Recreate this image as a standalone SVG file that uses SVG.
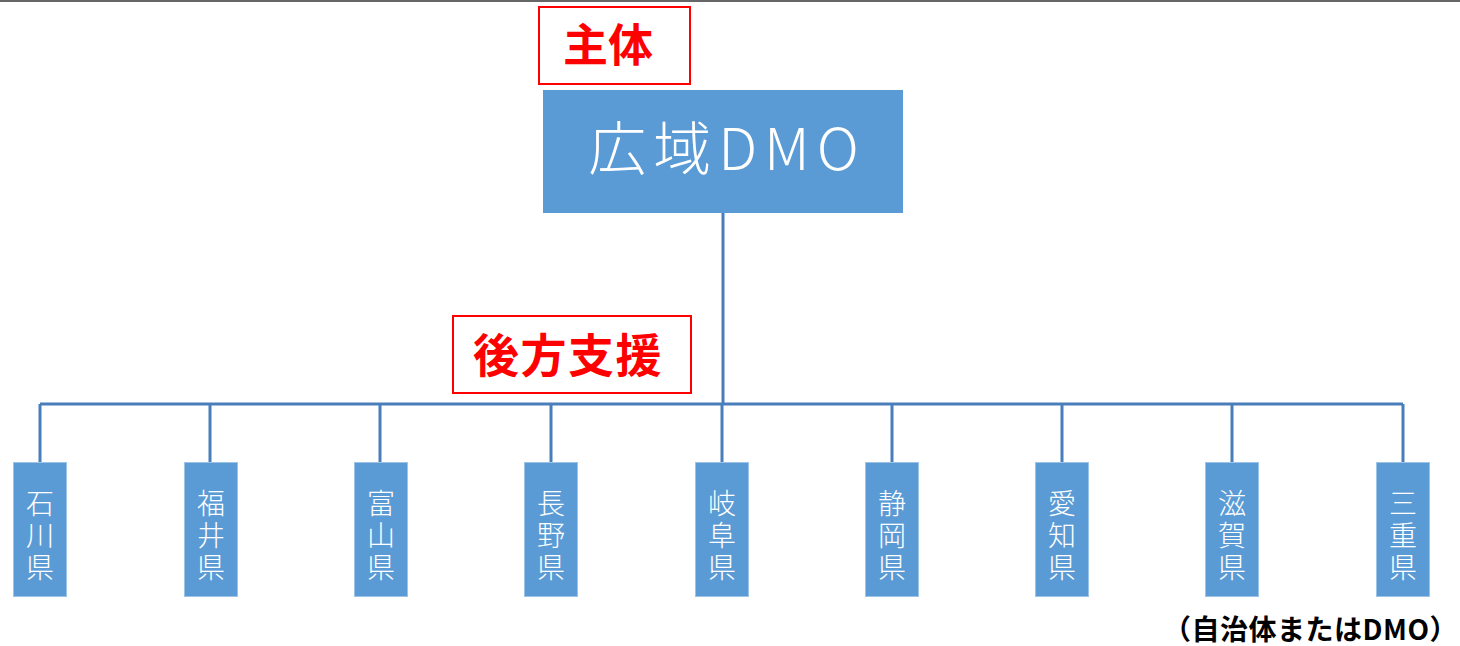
<svg xmlns="http://www.w3.org/2000/svg" width="1460" height="646" viewBox="0 0 1460 646">
<style>
.node{fill:#5B9BD5;stroke:#9DC3E6;stroke-width:1}
.lbl{fill:#fff;font-family:"Noto Sans CJK JP","Noto Sans",sans-serif;font-weight:300;font-size:28px;text-anchor:middle}
.red{fill:#fff;stroke:#FF0000;stroke-width:2}
.redt{fill:#FF0000;font-family:"Noto Sans CJK JP","Noto Sans",sans-serif;font-weight:700;text-anchor:middle}
.con{stroke:#4A7EBB;stroke-width:3;fill:none}
</style>
<rect width="1460" height="646" fill="#fff"/>
<rect x="0" y="0" width="1460" height="2" fill="#666"/>
<g id="connectors">
<path class="con" d="M723 213V404M40 404H1403M40 404V462M210 404V462M380 404V462M551 404V462M722 404V462M892 404V462M1062 404V462M1232 404V462M1403 404V462"/>
</g>
<g id="shutai"><rect class="red" x="539" y="7" width="151" height="77"/><text class="redt" x="608" y="62" font-size="45">主体</text></g>
<g id="koho"><rect class="red" x="453" y="316" width="238" height="77"/><text class="redt" x="568" y="372" font-size="46" letter-spacing="1.5">後方支援</text></g>
<g id="dmo"><rect x="543" y="90" width="360" height="123" fill="#5B9BD5"/><text x="727" y="170" fill="#fff" font-family="'Noto Sans CJK JP','Noto Sans',sans-serif" font-weight="300" font-size="58" letter-spacing="7" text-anchor="middle">広域DMO</text></g>
<g id="n1"><rect class="node" x="13.5" y="462.5" width="53" height="134"/><text class="lbl" x="40" y="514">石</text><text class="lbl" x="40" y="546">川</text><text class="lbl" x="40" y="578">県</text></g>
<g id="n2"><rect class="node" x="184.5" y="462.5" width="53" height="134"/><text class="lbl" x="211" y="514">福</text><text class="lbl" x="211" y="546">井</text><text class="lbl" x="211" y="578">県</text></g>
<g id="n3"><rect class="node" x="354.5" y="462.5" width="53" height="134"/><text class="lbl" x="381" y="514">富</text><text class="lbl" x="381" y="546">山</text><text class="lbl" x="381" y="578">県</text></g>
<g id="n4"><rect class="node" x="524.5" y="462.5" width="53" height="134"/><text class="lbl" x="551" y="514">長</text><text class="lbl" x="551" y="546">野</text><text class="lbl" x="551" y="578">県</text></g>
<g id="n5"><rect class="node" x="695.5" y="462.5" width="53" height="134"/><text class="lbl" x="722" y="514">岐</text><text class="lbl" x="722" y="546">阜</text><text class="lbl" x="722" y="578">県</text></g>
<g id="n6"><rect class="node" x="865.5" y="462.5" width="53" height="134"/><text class="lbl" x="892" y="514">静</text><text class="lbl" x="892" y="546">岡</text><text class="lbl" x="892" y="578">県</text></g>
<g id="n7"><rect class="node" x="1035.5" y="462.5" width="53" height="134"/><text class="lbl" x="1062" y="514">愛</text><text class="lbl" x="1062" y="546">知</text><text class="lbl" x="1062" y="578">県</text></g>
<g id="n8"><rect class="node" x="1205.5" y="462.5" width="53" height="134"/><text class="lbl" x="1232" y="514">滋</text><text class="lbl" x="1232" y="546">賀</text><text class="lbl" x="1232" y="578">県</text></g>
<g id="n9"><rect class="node" x="1376.5" y="462.5" width="53" height="134"/><text class="lbl" x="1403" y="514">三</text><text class="lbl" x="1403" y="546">重</text><text class="lbl" x="1403" y="578">県</text></g>
<text x="1458" y="640" font-family="'Noto Sans CJK JP','Noto Sans',sans-serif" font-weight="700" font-size="28" letter-spacing="0.5" text-anchor="end" fill="#000">（自治体またはDMO）</text>
</svg>
